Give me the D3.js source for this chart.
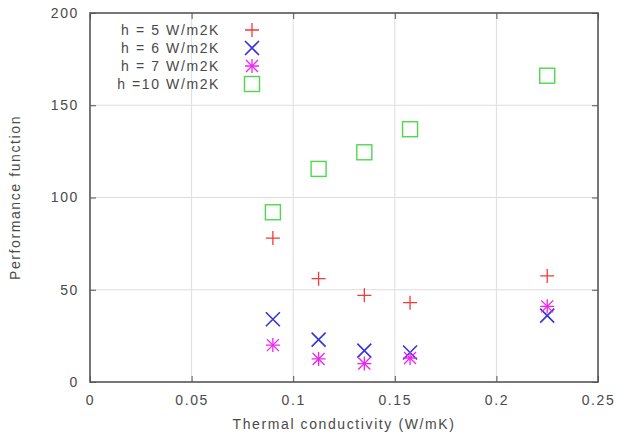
<!DOCTYPE html>
<html>
<head>
<meta charset="utf-8">
<script src="https://cdn.jsdelivr.net/npm/d3@7"></script>
<style>
  html, body { margin: 0; padding: 0; background: #fff; }
  svg { display: block; font-family: "Liberation Sans", "DejaVu Sans", sans-serif; }
  svg text { letter-spacing: 1.6px; }
</style>
</head>
<body>
<svg id="chart" width="619" height="439"></svg>
<script>
// Thermal conductivity values shared by every series (W/mK)
const conductivity = [0.09, 0.1125, 0.135, 0.1575, 0.225];

// Performance function for each heat transfer coefficient
const seriesNames = ["h = 5 W/m2K", "h = 6 W/m2K", "h = 7 W/m2K", "h =10 W/m2K"];
const h5 = [78, 56, 47, 43, 57.5];
const h6 = [34, 23, 17, 16, 36];
const h7 = [20, 12.5, 10, 13, 41];
const h10 = [92, 115.5, 124.5, 137, 166];

const xTicks = [0, 0.05, 0.1, 0.15, 0.2, 0.25];
const yTicks = [0, 50, 100, 150, 200];

const series = [
  { name: seriesNames[0], values: h5, color: "#f03c3c", symbol: "plus" },
  { name: seriesNames[1], values: h6, color: "#3535dd", symbol: "cross" },
  { name: seriesNames[2], values: h7, color: "#ee22ee", symbol: "star" },
  { name: seriesNames[3], values: h10, color: "#4fd84f", symbol: "square" }
];

const svg = d3.select("#chart");
const margin = { left: 90, right: 21, top: 13, bottom: 57 };
const W = 619, H = 439;
const FS = 14;
const TEXT = "#4a4a4a";

const x = d3.scaleLinear().domain([0, 0.25]).range([margin.left, W - margin.right]);
const y = d3.scaleLinear().domain([0, 200]).range([H - margin.bottom, margin.top]);

const x0 = x.range()[0], x1 = x.range()[1];
const y0 = y.range()[0], y1 = y.range()[1];

// grid lines
const grid = svg.append("g").attr("stroke", "#dedede").attr("stroke-width", 1);
grid.selectAll(".gx").data(xTicks.slice(1, -1)).join("line")
  .attr("x1", d => x(d)).attr("x2", d => x(d)).attr("y1", y0).attr("y2", y1);
grid.selectAll(".gy").data(yTicks.slice(1, -1)).join("line")
  .attr("x1", x0).attr("x2", x1).attr("y1", d => y(d)).attr("y2", d => y(d));

// axes
const fmtX = d => d === 0 ? "0" : String(d);
const xAxis = d3.axisBottom(x).tickValues(xTicks).tickFormat(fmtX).tickSizeInner(-6).tickSizeOuter(0).tickPadding(13);
const yAxis = d3.axisLeft(y).tickValues(yTicks).tickSizeInner(-6).tickSizeOuter(0).tickPadding(11);
const xTop = d3.axisTop(x).tickValues(xTicks).tickFormat("").tickSizeInner(-6).tickSizeOuter(0);
const yRight = d3.axisRight(y).tickValues(yTicks).tickFormat("").tickSizeInner(-6).tickSizeOuter(0);

function styleAxis(g) {
  g.select(".domain").remove();
  g.selectAll(".tick line").attr("stroke", "#555").attr("stroke-width", 1);
  g.selectAll(".tick text").attr("fill", TEXT).attr("font-size", FS);
}
svg.append("g").attr("transform", `translate(0,${y0})`).call(xAxis).call(styleAxis);
svg.append("g").attr("transform", `translate(${x0},0)`).call(yAxis).call(styleAxis);
svg.append("g").attr("transform", `translate(0,${y1})`).call(xTop).call(styleAxis);
svg.append("g").attr("transform", `translate(${x1},0)`).call(yRight).call(styleAxis);

// frame
svg.append("rect")
  .attr("x", x0).attr("y", y1).attr("width", x1 - x0).attr("height", y0 - y1)
  .attr("fill", "none").attr("stroke", "#555").attr("stroke-width", 1.6);

// axis labels
svg.append("text")
  .attr("x", (x0 + x1) / 2).attr("y", 429)
  .attr("text-anchor", "middle").attr("font-size", FS).attr("fill", TEXT)
  .text("Thermal conductivity (W/mK)");
svg.append("text")
  .attr("transform", `translate(20,${(y0 + y1) / 2}) rotate(-90)`)
  .attr("text-anchor", "middle").attr("font-size", FS).attr("fill", TEXT)
  .text("Performance function");

// point symbols
function drawSymbol(g, type, cx, cy, color) {
  const s = 7;
  if (type === "plus" || type === "star") {
    g.append("path").attr("d", `M${cx - s},${cy}H${cx + s}M${cx},${cy - s}V${cy + s}`)
      .attr("stroke", color).attr("stroke-width", 1.3).attr("fill", "none");
  }
  if (type === "cross" || type === "star") {
    const c = type === "star" ? 6 : 7;
    g.append("path").attr("d", `M${cx - c},${cy - c}L${cx + c},${cy + c}M${cx - c},${cy + c}L${cx + c},${cy - c}`)
      .attr("stroke", color).attr("stroke-width", type === "star" ? 1.3 : 1.6).attr("fill", "none");
  }
  if (type === "square") {
    g.append("rect").attr("x", cx - 7.5).attr("y", cy - 7.5).attr("width", 15).attr("height", 15)
      .attr("stroke", color).attr("stroke-width", 1.4).attr("fill", "none");
  }
}

const pts = svg.append("g");
series.forEach(s => {
  s.values.forEach((v, i) => drawSymbol(pts, s.symbol, x(conductivity[i]), y(v), s.color));
});

// legend
const legend = svg.append("g");
series.forEach((s, i) => {
  const ly = 30 + i * 18;
  legend.append("text")
    .attr("x", 220).attr("y", ly).attr("dy", "0.35em")
    .attr("text-anchor", "end").attr("font-size", FS).attr("fill", TEXT)
    .text(s.name);
  drawSymbol(legend, s.symbol, 252, ly, s.color);
});
</script>
</body>
</html>
